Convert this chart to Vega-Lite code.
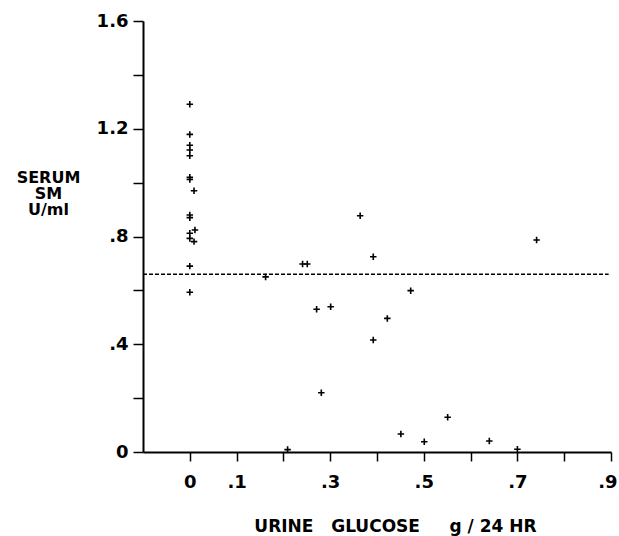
{
  "$schema": "https://vega.github.io/schema/vega-lite/v6.json",
  "width": 468,
  "height": 431,
  "autosize": "none",
  "padding": {"left": 143, "top": 21, "right": 8, "bottom": 84},
  "background": "white",
  "config": {
    "view": {"stroke": null},
    "axis": {
      "grid": false,
      "domainColor": "black",
      "domainWidth": 2,
      "tickColor": "black",
      "tickWidth": 1.5,
      "labelColor": "black",
      "labelFont": "DejaVu Sans",
      "labelFontWeight": "bold",
      "labelFontSize": 18,
      "titleColor": "black",
      "titleFont": "DejaVu Sans",
      "titleFontWeight": "bold",
      "titleFontSize": 17
    }
  },
  "datasets": {
    "points": [
      {"glucose": 0.0, "sm": 1.291},
      {"glucose": 0.0, "sm": 1.179},
      {"glucose": 0.0, "sm": 1.139},
      {"glucose": 0.0, "sm": 1.121},
      {"glucose": 0.0, "sm": 1.100},
      {"glucose": 0.0, "sm": 1.020},
      {"glucose": 0.0, "sm": 1.012},
      {"glucose": 0.009, "sm": 0.970},
      {"glucose": 0.0, "sm": 0.880},
      {"glucose": 0.0, "sm": 0.870},
      {"glucose": 0.0, "sm": 0.812},
      {"glucose": 0.0, "sm": 0.793},
      {"glucose": 0.011, "sm": 0.824},
      {"glucose": 0.009, "sm": 0.781},
      {"glucose": 0.0, "sm": 0.690},
      {"glucose": 0.0, "sm": 0.593},
      {"glucose": 0.364, "sm": 0.877},
      {"glucose": 0.392, "sm": 0.725},
      {"glucose": 0.241, "sm": 0.698},
      {"glucose": 0.251, "sm": 0.698},
      {"glucose": 0.162, "sm": 0.650},
      {"glucose": 0.472, "sm": 0.599},
      {"glucose": 0.271, "sm": 0.530},
      {"glucose": 0.301, "sm": 0.539},
      {"glucose": 0.422, "sm": 0.496},
      {"glucose": 0.392, "sm": 0.416},
      {"glucose": 0.281, "sm": 0.220},
      {"glucose": 0.451, "sm": 0.067},
      {"glucose": 0.209, "sm": 0.009},
      {"glucose": 0.741, "sm": 0.787},
      {"glucose": 0.501, "sm": 0.038},
      {"glucose": 0.551, "sm": 0.129},
      {"glucose": 0.640, "sm": 0.041},
      {"glucose": 0.700, "sm": 0.010}
    ],
    "reference": [
      {"x1": -0.1, "x2": 0.895, "level": 0.66}
    ]
  },
  "layer": [
    {
      "data": {"name": "reference"},
      "mark": {"type": "rule", "color": "black", "strokeWidth": 1.5, "strokeDash": [4, 2]},
      "encoding": {
        "x": {"field": "x1", "type": "quantitative"},
        "x2": {"field": "x2"},
        "y": {"field": "level", "type": "quantitative"}
      }
    },
    {
      "data": {"name": "points"},
      "mark": {
        "type": "point",
        "shape": "M-1,0L1,0M0,-1L0,1",
        "filled": false,
        "color": "black",
        "strokeWidth": 1.6,
        "size": 42,
        "opacity": 1
      },
      "encoding": {
        "x": {
          "field": "glucose",
          "type": "quantitative",
          "scale": {"domain": [-0.1, 0.9], "nice": false, "zero": false},
          "axis": {
            "title": "URINE\u00a0\u00a0\u00a0GLUCOSE\u00a0\u00a0\u00a0\u00a0\u00a0g / 24 HR",
            "values": [0, 0.1, 0.2, 0.3, 0.4, 0.5, 0.6, 0.7, 0.8, 0.9],
            "labelExpr": "datum.value == 0 ? '0' : (indexof([0.1, 0.3, 0.5, 0.7, 0.9], datum.value) >= 0 ? replace(format(datum.value, '.1f'), '0.', '.') : '')",
            "tickSize": 9,
            "labelPadding": 12,
            "labelFlush": true,
            "labelFlushOffset": 6,
            "labelOverlap": false,
            "titleAnchor": "start",
            "titleAlign": "center",
            "titleX": 252,
            "titleY": 79,
            "titleBaseline": "alphabetic"
          }
        },
        "y": {
          "field": "sm",
          "type": "quantitative",
          "scale": {"domain": [0, 1.6], "nice": false, "zero": false},
          "axis": {
            "title": ["SERUM", "SM", "U/ml"],
            "values": [0, 0.2, 0.4, 0.6, 0.8, 1.0, 1.2, 1.4, 1.6],
            "labelExpr": "datum.value == 0 ? '0' : (indexof([0.4, 0.8, 1.2, 1.6], datum.value) >= 0 ? replace(format(datum.value, '.1f'), '0.', '.') : '')",
            "tickSize": 10,
            "labelPadding": 5,
            "labelFlush": false,
            "labelOverlap": false,
            "titleAngle": 0,
            "titleAlign": "center",
            "titleBaseline": "top",
            "titleX": -95,
            "titleY": 148,
            "titleLineHeight": 16,
            "titleFontSize": 16
          }
        }
      }
    }
  ]
}
